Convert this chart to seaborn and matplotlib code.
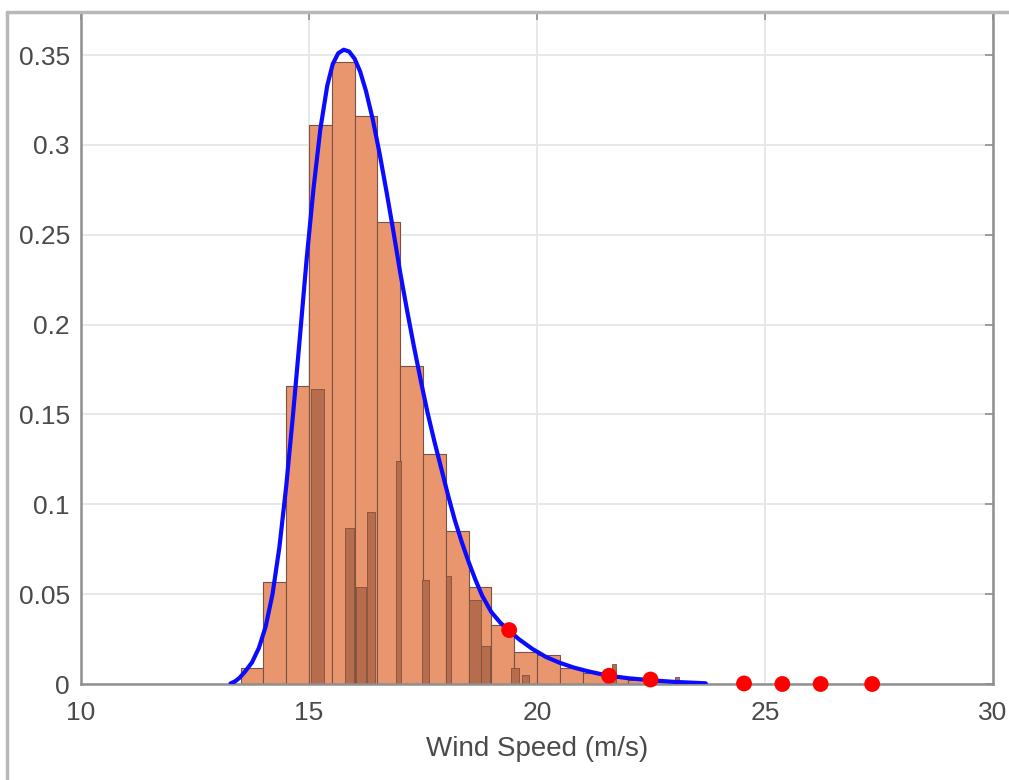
import numpy as np
import pandas as pd
import matplotlib
matplotlib.use("Agg")
import matplotlib.pyplot as plt
import seaborn as sns
from matplotlib.lines import Line2D

# ---- data ----
bin_edges = [13.5, 14.0, 14.5, 15.0, 15.5, 16.0, 16.5, 17.0, 17.5, 18.0, 18.5,
             19.0, 19.5, 20.0, 20.5, 21.0, 21.5, 22.0, 22.5, 23.0, 23.5]
bin_heights = [0.009, 0.057, 0.166, 0.311, 0.346, 0.316, 0.257, 0.177, 0.128, 0.085,
               0.054, 0.033, 0.018, 0.016, 0.009, 0.006, 0.004, 0.002, 0.001, 0.0005]

narrow_left = [15.04, 15.80, 16.02, 16.27, 16.90, 17.48, 18.00, 18.51, 18.77, 19.42, 19.67, 21.64, 23.03]
narrow_right = [15.33, 15.99, 16.24, 16.45, 17.02, 17.63, 18.11, 18.77, 18.98, 19.60, 19.82, 21.73, 23.11]
narrow_heights = [0.164, 0.087, 0.054, 0.096, 0.124, 0.058, 0.060, 0.047, 0.021, 0.009, 0.005, 0.011, 0.004]

curve_x = [13.28, 13.38, 13.48, 13.6, 13.75, 13.9, 14.05, 14.2, 14.35, 14.5, 14.65, 14.8,
           14.95, 15.1, 15.25, 15.4, 15.52, 15.64, 15.76, 15.88, 16.0, 16.12, 16.25, 16.4,
           16.55, 16.7, 16.85, 17.0, 17.15, 17.3, 17.45, 17.6, 17.75, 17.9, 18.05, 18.2,
           18.35, 18.5, 18.65, 18.8, 19.0, 19.2, 19.4, 19.6, 19.9, 20.2, 20.5, 20.8, 21.1,
           21.4, 21.7, 22.0, 22.5, 23.0, 23.7]
curve_y = [0.0003, 0.0015, 0.0035, 0.007, 0.012, 0.020, 0.032, 0.050, 0.076, 0.110, 0.150, 0.193,
           0.237, 0.276, 0.309, 0.333, 0.345, 0.351, 0.353, 0.352, 0.348, 0.341, 0.330, 0.314,
           0.295, 0.274, 0.252, 0.229, 0.208, 0.188, 0.169, 0.151, 0.135, 0.120, 0.105, 0.091,
           0.079, 0.068, 0.058, 0.049, 0.040, 0.034, 0.0295, 0.025, 0.0195, 0.015, 0.0118,
           0.0092, 0.0072, 0.0055, 0.0042, 0.0032, 0.0021, 0.0012, 0.0004]

dot_x = [19.39, 21.58, 22.49, 24.54, 25.38, 26.22, 27.35]
dot_y = [0.030, 0.0046, 0.0025, 0.0003, 0.0, 0.0, 0.0]

x_ticks = [10, 15, 20, 25, 30]
y_ticks = [0, 0.05, 0.1, 0.15, 0.2, 0.25, 0.3, 0.35]
y_tick_labels = ["0", "0.05", "0.1", "0.15", "0.2", "0.25", "0.3", "0.35"]
x_label = "Wind Speed (m/s)"

# ---- style ----
sns.set_theme(style="white")
plt.rcParams["font.family"] = ["Liberation Sans", "DejaVu Sans"]

txt = "#4a4a4a"
axc = "#8f8f8f"

fig = plt.figure(figsize=(10.09, 7.80), dpi=100)
fig.patch.set_facecolor("white")
ax = fig.add_axes([81 / 1009, 96 / 780, 912 / 1009, 672 / 780])
ax.set_facecolor("white")

centers = [(bin_edges[i] + bin_edges[i + 1]) / 2 for i in range(len(bin_heights))]
hist_df = pd.DataFrame({"speed": centers, "w": bin_heights})
sns.histplot(data=hist_df, x="speed", weights="w", bins=bin_edges, stat="count",
             color="#e9966f", alpha=1.0, edgecolor="#7a5241", linewidth=0.8, ax=ax, zorder=2)

widths = [r - l for l, r in zip(narrow_left, narrow_right)]
ax.bar(narrow_left, narrow_heights, width=widths, align="edge", color="#b56d4d",
       edgecolor="#80503a", linewidth=0.6, zorder=2.5)

sns.lineplot(x=curve_x, y=curve_y, color="#0b0bff", linewidth=3.0, ax=ax, zorder=3,
             solid_joinstyle="round", solid_capstyle="round")
sns.scatterplot(x=dot_x, y=dot_y, color="#ff0000", s=130, edgecolor="none", ax=ax,
                zorder=4, clip_on=False)

ax.set_xlim(10, 30)
ax.set_ylim(0, 0.374)
ax.set_xticks(x_ticks)
ax.set_xticklabels([str(t) for t in x_ticks])
ax.set_yticks(y_ticks)
ax.set_yticklabels(y_tick_labels)
ax.set_xlabel(x_label, fontsize=20, color=txt, labelpad=8)
ax.set_ylabel("")

ax.grid(True, color="#e6e6e6", linewidth=1.3)
ax.set_axisbelow(True)
for s in ax.spines.values():
    s.set_visible(True)
    s.set_color(axc)
    s.set_linewidth(1.8)
ax.tick_params(axis="both", direction="in", length=6, width=1.2, color=axc,
               labelsize=19, labelcolor=txt, top=True, right=True)
ax.tick_params(axis="y", pad=8)
ax.tick_params(axis="x", pad=12)

# outer frame of the screenshot (left and top edges)
fig.add_artist(Line2D([7 / 1009, 7 / 1009], [0, 1 - 12 / 780], transform=fig.transFigure,
                      color="#b8b8b8", linewidth=2.5))
fig.add_artist(Line2D([7 / 1009, 1], [1 - 12 / 780, 1 - 12 / 780], transform=fig.transFigure,
                      color="#b8b8b8", linewidth=2.5))

fig.savefig("out.png", dpi=100, facecolor="white")
